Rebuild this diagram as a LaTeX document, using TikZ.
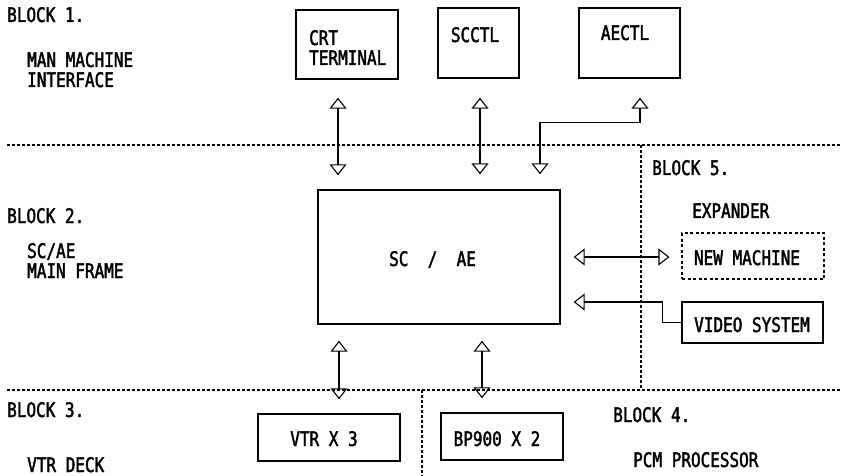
\documentclass[tikz,border=0pt]{standalone}
\usepackage{fontspec}
\newfontfamily\diag[FakeStretch=0.8, FakeBold=2]{DejaVu Sans Mono}
\usetikzlibrary{arrows.meta}
\tikzset{
  lbl/.style={font=\diag\fontsize{20}{20}\selectfont, inner sep=0pt, anchor=base west, text height=14.6pt, text depth=0pt},
  blk/.style={draw, line width=1.4pt, inner sep=0pt},
  dblk/.style={draw, line width=1.1pt, inner sep=0pt, dash pattern=on 3pt off 2.5pt},
  sep/.style={line width=1.1pt, dash pattern=on 3pt off 2pt},
  ohead/.tip={Triangle[open, length=11pt, width=17pt]},
  biarrow/.style={line width=1.1pt, {ohead}-{ohead}},
  oarrow/.style={line width=1.1pt, -{ohead}}
}
\begin{document}
\begin{tikzpicture}[x=1pt,y=-1pt]
\useasboundingbox (0,0) rectangle (841,476);

% separators
\draw[sep] (7,145) -- (841,145);
\draw[sep] (7,390) -- (841,390);
\draw[sep] (641,145) -- (641,390);
\draw[sep] (422,390) -- (422,476);

% block 1
\node[lbl] (b1) at (7,22) {BLOCK 1.};
\node[lbl] (b1a) at (27,67) {MAN MACHINE};
\node[lbl] (b1b) at (27,87) {INTERFACE};
\node[blk, minimum width=102pt, minimum height=69pt] (crt) at (347,44.5) {};
\node[lbl] (crta) at (309,45) {CRT};
\node[lbl] (crtb) at (309,65) {TERMINAL};
\node[blk, minimum width=81pt, minimum height=70pt] (scctl) at (478.5,43) {};
\node[lbl, anchor=base] (scctlt) at (475,42) {SCCTL};
\node[blk, minimum width=101pt, minimum height=70pt] (aectl) at (629.5,43) {};
\node[lbl, anchor=base] (aectlt) at (625,40) {AECTL};

% block 2
\node[lbl] (b2) at (7,223) {BLOCK 2.};
\node[lbl] (b2a) at (27,258) {SC/AE};
\node[lbl] (b2b) at (27,278) {MAIN FRAME};
\node[blk, minimum width=242pt, minimum height=134pt] (scae) at (439,257) {};
\node[lbl] (scaet) at (389,266) {SC\ \ /\ \ AE};

% block 5
\node[lbl] (b5) at (652,175) {BLOCK 5.};
\node[lbl] (b5a) at (692,218) {EXPANDER};
\node[dblk, minimum width=142pt, minimum height=46pt] (newm) at (753,256) {};
\node[lbl, anchor=base] (newmt) at (747,265) {NEW MACHINE};
\node[blk, minimum width=141pt, minimum height=41pt] (video) at (752.5,322.5) {};
\node[lbl, anchor=base] (videot) at (752,332) {VIDEO SYSTEM};

% block 3 / 4
\node[lbl] (b3) at (7,417) {BLOCK 3.};
\node[lbl] (b3a) at (27,472) {VTR DECK};
\node[blk, minimum width=142pt, minimum height=47pt] (vtr) at (329,437.5) {};
\node[lbl, anchor=base] (vtrt) at (324,446) {VTR X 3};
\node[blk, minimum width=122pt, minimum height=47pt] (bp) at (502,436.5) {};
\node[lbl, anchor=base] (bpt) at (497,446) {BP900 X 2};
\node[lbl] (b4) at (613,422) {BLOCK 4.};
\node[lbl] (b4a) at (633,467) {PCM PROCESSOR};

% connectors
\draw[biarrow, shorten <=18pt, shorten >=14pt] ([xshift=-9pt]crt.south) -- ([xshift=-9pt]crt.south |- scae.north);
\draw[biarrow, shorten <=19pt, shorten >=15pt] ([xshift=1.5pt]scctl.south) -- ([xshift=1.5pt]scctl.south |- scae.north);
\draw[biarrow, shorten <=19pt, shorten >=15pt] ([xshift=10.5pt]aectl.south) -- ++(0,44) -| ([xshift=101pt]scae.north);
\draw[biarrow, shorten <=13pt, shorten >=12pt] (scae.east) -- (scae.east -| newm.west);
\draw[oarrow, shorten >=13pt] (video.west) -- ++(-19,0) |- ([yshift=-45pt]scae.east);
\draw[biarrow, shorten <=16pt, shorten >=14pt] ([xshift=-100pt]scae.south) -- ([xshift=-100pt]scae.south |- vtr.north);
\draw[biarrow, shorten <=16pt, shorten >=14pt] ([xshift=43pt]scae.south) -- ([xshift=43pt]scae.south |- bp.north);
\end{tikzpicture}
\end{document}
